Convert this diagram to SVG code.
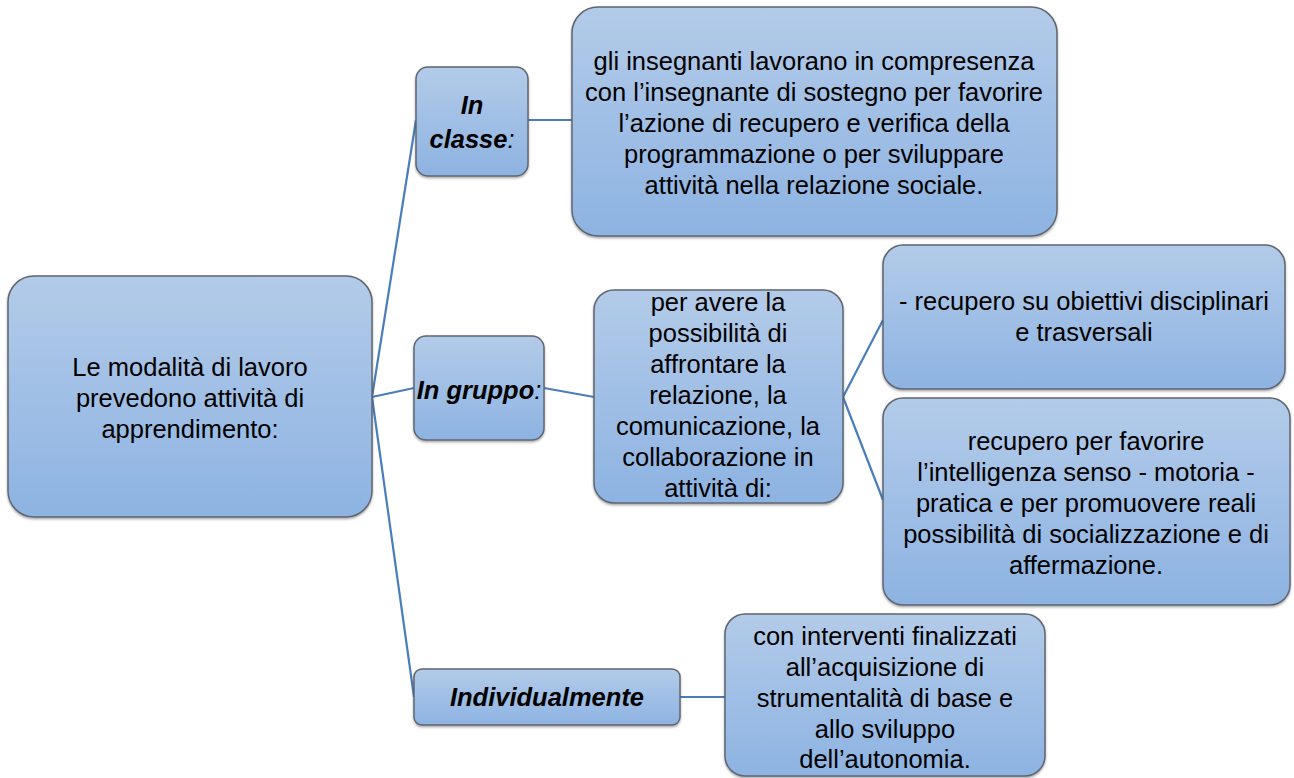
<svg xmlns="http://www.w3.org/2000/svg" width="1294" height="778" viewBox="0 0 1294 778">
<defs>
<linearGradient id="g" x1="0" y1="0" x2="0" y2="1">
<stop offset="0" stop-color="#B3CBE9"/>
<stop offset="1" stop-color="#8DB3E2"/>
</linearGradient>
<filter id="sh" x="-5%" y="-5%" width="110%" height="115%">
<feDropShadow dx="0" dy="1.5" stdDeviation="1.2" flood-color="#000" flood-opacity="0.35"/>
</filter>
</defs>
<style>
.box{fill:url(#g);stroke:#5F6670;stroke-width:1.5;filter:url(#sh)}
.t{font-family:"Liberation Sans",Arial,sans-serif;font-size:25.5px;fill:#000;text-anchor:middle}
.b{font-weight:bold;font-style:italic}
.c{fill:none;stroke:#4A7EBB;stroke-width:2.2}
</style>
<rect width="1294" height="778" fill="#fff"/>
<g id="connectors">
<path class="c" d="M372,397 L416,120"/>
<path class="c" d="M372,397 L414,388"/>
<path class="c" d="M372,397 L414,697"/>
<path class="c" d="M528,120 L572,120"/>
<path class="c" d="M544,388 L594,397"/>
<path class="c" d="M843,397 L883,320"/>
<path class="c" d="M843,397 L883,500"/>
<path class="c" d="M680,697 L725,697"/>
</g>
<g id="root">
<rect class="box" x="8" y="276" width="364" height="241" rx="26"/>
<text class="t" x="190"><tspan x="190" y="376">Le modalità di lavoro</tspan><tspan x="190" y="407">prevedono attività di</tspan><tspan x="190" y="438">apprendimento:</tspan></text>
</g>
<g id="in-classe">
<rect class="box" x="416" y="67" width="112" height="109" rx="12"/>
<text class="t b" x="472"><tspan x="472" y="114">In</tspan><tspan x="472" y="148">classe<tspan font-weight="normal">:</tspan></tspan></text>
</g>
<g id="classe-desc">
<rect class="box" x="572" y="7" width="485" height="229" rx="26"/>
<text class="t" x="814"><tspan x="814" y="70">gli insegnanti lavorano in compresenza</tspan><tspan x="814" y="101">con l’insegnante di sostegno per favorire</tspan><tspan x="814" y="132">l’azione di recupero e verifica della</tspan><tspan x="814" y="163">programmazione o per sviluppare</tspan><tspan x="814" y="194">attività nella relazione sociale.</tspan></text>
</g>
<g id="in-gruppo">
<rect class="box" x="414" y="336" width="130" height="104" rx="12"/>
<text class="t b" x="479" y="399">In gruppo<tspan font-weight="normal">:</tspan></text>
</g>
<g id="gruppo-desc">
<rect class="box" x="594" y="290" width="249" height="213" rx="20"/>
<text class="t" x="718"><tspan x="718" y="311">per avere la</tspan><tspan x="718" y="342">possibilità di</tspan><tspan x="718" y="373">affrontare la</tspan><tspan x="718" y="404">relazione, la</tspan><tspan x="718" y="435">comunicazione, la</tspan><tspan x="718" y="466">collaborazione in</tspan><tspan x="718" y="497">attività di:</tspan></text>
</g>
<g id="recupero-1">
<rect class="box" x="883" y="245" width="402" height="144" rx="20"/>
<text class="t" x="1084"><tspan x="1084" y="310">- recupero su obiettivi disciplinari</tspan><tspan x="1084" y="341">e trasversali</tspan></text>
</g>
<g id="recupero-2">
<rect class="box" x="883" y="398" width="407" height="207" rx="20"/>
<text class="t" x="1086"><tspan x="1086" y="450">recupero per favorire</tspan><tspan x="1086" y="481">l’intelligenza senso - motoria -</tspan><tspan x="1086" y="512">pratica e per promuovere reali</tspan><tspan x="1086" y="543">possibilità di socializzazione e di</tspan><tspan x="1086" y="574">affermazione.</tspan></text>
</g>
<g id="individualmente">
<rect class="box" x="414" y="669" width="266" height="56" rx="8"/>
<text class="t b" x="547" y="706">Individualmente</text>
</g>
<g id="individ-desc">
<rect class="box" x="725" y="614" width="320" height="162" rx="20"/>
<text class="t" x="885"><tspan x="885" y="645">con interventi finalizzati</tspan><tspan x="885" y="676">all’acquisizione di</tspan><tspan x="885" y="707">strumentalità di base e</tspan><tspan x="885" y="738">allo sviluppo</tspan><tspan x="885" y="768">dell’autonomia.</tspan></text>
</g>
</svg>
